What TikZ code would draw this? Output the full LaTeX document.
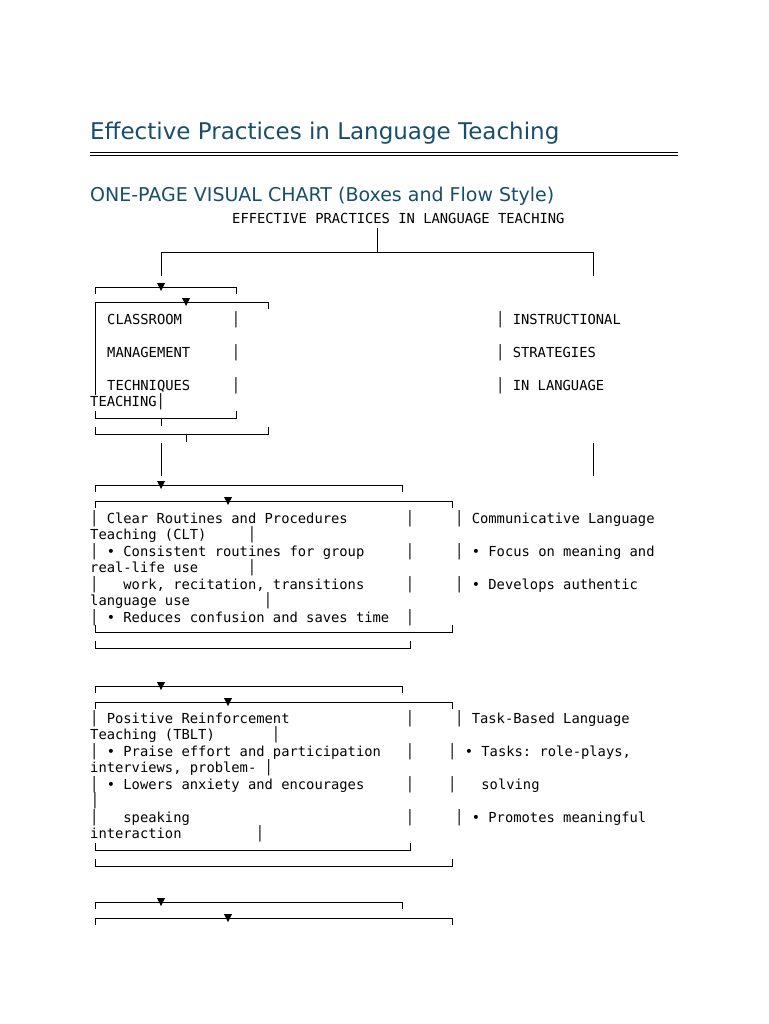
\documentclass[tikz,border=0pt]{standalone}
\usepackage{fontspec}
\setmainfont{DejaVu Sans}
\setmonofont{DejaVu Sans Mono}
\definecolor{ttl}{RGB}{24,78,106}
\newcommand\tx[3]{\node[mono,anchor=base west] at (#1,#2+5) {#3};}
\newcommand\vb[2]{\node[mono,anchor=base] at (#1,#2+5) {│};}
% top line with down ticks
\newcommand\tl[4]{\draw[rl] (#1,#3+7)--(#1,#3)--(#2,#3)--(#2,#3+7); \fill (#4-4,#3-4)--(#4+4,#3-4)--(#4,#3+4)--cycle;}
% bottom line with up ticks
\newcommand\bl[3]{\draw[rl] (#1,#3-7)--(#1,#3)--(#2,#3)--(#2,#3-7);}
\begin{document}
\begin{tikzpicture}[x=1pt,y=-1pt,
  mono/.style={font=\ttfamily\fontsize{13.8}{14}\selectfont,inner sep=0pt,text=black},
  rl/.style={line width=0.8pt,black}]
\useasboundingbox (0,0) rectangle (768,1024);
\node[anchor=base west,inner sep=0pt,text=ttl,font=\fontsize{23}{26}\selectfont] (title) at (90,140) {Effective Practices in Language Teaching};
\draw[line width=0.8pt] (90,152)--(678,152) (90,155)--(678,155);
\node[anchor=base west,inner sep=0pt,text=ttl,font=\fontsize{19}{22}\selectfont] (sub) at (90,202) {ONE-PAGE VISUAL CHART (Boxes and Flow Style)};
\tx{232}{219}{EFFECTIVE PRACTICES IN LANGUAGE TEACHING}
\draw[rl] (377,228)--(377,252) (161,276)--(161,252)--(593,252)--(593,276);
% section 1
\tl{95}{236}{287}{161}
\tl{95}{268}{302}{186}
\draw[rl] (95,302)--(95,395);
\tx{107}{319}{CLASSROOM} \vb{236}{319} \tx{496}{319}{│ INSTRUCTIONAL}
\tx{107}{352}{MANAGEMENT} \vb{236}{352} \tx{496}{352}{│ STRATEGIES}
\tx{107}{385}{TECHNIQUES} \vb{236}{385} \tx{496}{385}{│ IN LANGUAGE}
\tx{90}{401}{TEACHING│}
\bl{95}{236}{418} \draw[rl] (161,418)--(161,426);
\bl{95}{268}{434} \draw[rl] (186,434)--(186,442);
\draw[rl] (161,443)--(161,476) (593,443)--(593,476);
% section 2
\tl{95}{402}{485}{161}
\tl{95}{452}{501}{228}
\tx{90}{518}{│ Clear Routines and Procedures} \vb{410}{518} \tx{455}{518}{│ Communicative Language}
\tx{90}{534}{Teaching (CLT)} \vb{252}{534}
\tx{90}{551}{│ • Consistent routines for group} \vb{410}{551} \tx{455}{551}{│ • Focus on meaning and}
\tx{90}{567}{real-life use} \vb{252}{567}
\tx{90}{584}{│\ \ \ work, recitation, transitions} \vb{410}{584} \tx{455}{584}{│ • Develops authentic}
\tx{90}{600}{language use} \vb{268}{600}
\tx{90}{617}{│ • Reduces confusion and saves time} \vb{410}{617}
\bl{95}{452}{632}
\bl{95}{410}{648}
% section 3
\tl{95}{402}{686}{161}
\tl{95}{452}{702}{228}
\tx{90}{718}{│ Positive Reinforcement} \vb{410}{718} \tx{455}{718}{│ Task-Based Language}
\tx{90}{734}{Teaching (TBLT)} \vb{276}{734}
\tx{90}{751}{│ • Praise effort and participation} \vb{410}{751} \tx{448}{751}{│ • Tasks: role-plays,}
\tx{90}{767}{interviews, problem- │}
\tx{90}{784}{│ • Lowers anxiety and encourages} \vb{410}{784} \tx{448}{784}{│\ \ \ solving}
\vb{95}{800}
\tx{90}{817}{│\ \ \ speaking} \vb{410}{817} \tx{455}{817}{│ • Promotes meaningful}
\tx{90}{833}{interaction} \vb{260}{833}
\bl{95}{410}{850}
\bl{95}{452}{866}
% section 4
\tl{95}{402}{902}{161}
\tl{95}{452}{918}{228}
\end{tikzpicture}
\end{document}
